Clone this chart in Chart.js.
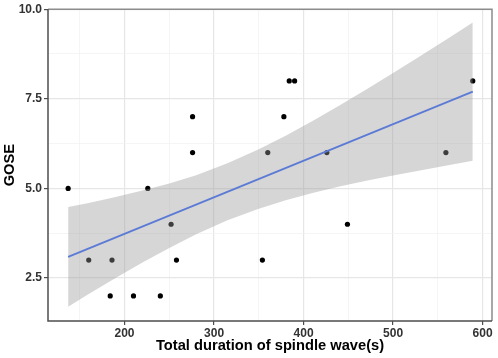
<!DOCTYPE html>
<html>
<head>
<meta charset="utf-8">
<script src="https://cdn.jsdelivr.net/npm/chart.js@4.4.1/dist/chart.umd.min.js"></script>
<style>
  html, body { margin: 0; padding: 0; background: #fff; }
  #wrap { width: 498px; height: 358px; }
</style>
</head>
<body>
<div id="wrap"><canvas id="chart"></canvas></div>
<script>
// observed points
const duration = [137, 160, 184, 186, 210, 226, 240, 252, 258, 276, 276, 354, 360, 378, 384, 390, 426, 449, 559, 589];
const gose = [5, 3, 2, 3, 2, 5, 2, 4, 3, 7, 6, 3, 6, 7, 8, 8, 6, 4, 6, 8];

// fitted line ends
const fitX = [137, 589];
const fitY = [3.09, 7.70];

// confidence band
const bandX = [137, 160, 190, 220, 250, 280, 315, 350, 380, 410, 440, 470, 500, 530, 560, 589];
const bandUpper = [4.48, 4.59, 4.76, 4.94, 5.14, 5.37, 5.70, 6.09, 6.47, 6.88, 7.31, 7.76, 8.22, 8.69, 9.16, 9.63];
const bandLower = [1.70, 2.05, 2.50, 2.93, 3.34, 3.72, 4.11, 4.43, 4.67, 4.87, 5.05, 5.21, 5.36, 5.50, 5.64, 5.77];

const xTicks = [200, 300, 400, 500, 600];
const yTicks = [2.5, 5.0, 7.5, 10.0];

const pts = (xs, ys) => xs.map((x, i) => ({ x: x, y: ys[i] }));
const isMajor = (list, v) => list.some(t => Math.abs(t - v) < 1e-6);

const font = "'Liberation Sans', Arial, sans-serif";

const panelBorder = {
  id: 'panelBorder',
  afterDatasetsDraw(chart) {
    const { ctx, chartArea: a } = chart;
    ctx.save();
    ctx.lineWidth = 1.5;
    ctx.strokeStyle = '#8c8c8c';
    ctx.beginPath();
    ctx.moveTo(a.left, a.top);
    ctx.lineTo(a.right, a.top);
    ctx.lineTo(a.right, a.bottom);
    ctx.stroke();
    ctx.strokeStyle = '#4d4d4d';
    ctx.beginPath();
    ctx.moveTo(a.left, a.top);
    ctx.lineTo(a.left, a.bottom);
    ctx.lineTo(a.right, a.bottom);
    ctx.stroke();
    ctx.restore();
  }
};

new Chart(document.getElementById('chart'), {
  type: 'scatter',
  data: {
    datasets: [
      {
        label: 'upper',
        data: pts(bandX, bandUpper),
        showLine: true,
        borderWidth: 0,
        borderColor: 'rgba(0,0,0,0)',
        pointRadius: 0,
        fill: false
      },
      {
        label: 'lower',
        data: pts(bandX, bandLower),
        showLine: true,
        borderWidth: 0,
        borderColor: 'rgba(0,0,0,0)',
        pointRadius: 0,
        fill: '-1',
        backgroundColor: 'rgba(153,153,153,0.4)'
      },
      {
        label: 'fit',
        data: pts(fitX, fitY),
        showLine: true,
        borderColor: '#3366FF',
        borderWidth: 1.8,
        pointRadius: 0,
        fill: false
      },
      {
        label: 'GOSE',
        data: pts(duration, gose),
        pointRadius: 2.6,
        pointBackgroundColor: '#000',
        pointBorderWidth: 0,
        borderColor: '#000'
      }
    ]
  },
  options: {
    responsive: true,
    maintainAspectRatio: false,
    animation: false,
    layout: { padding: { left: 0, right: 6, top: 7, bottom: 0 } },
    plugins: {
      legend: { display: false },
      tooltip: { enabled: false }
    },
    scales: {
      x: {
        type: 'linear',
        min: 114.5,
        max: 610.5,
        afterFit: (s) => { s.height = 37; },
        border: { display: false },
        grid: {
          color: (c) => isMajor(xTicks, c.tick && c.tick.value) ? '#e6e6e6' : '#f0f0f0',
          lineWidth: (c) => isMajor(xTicks, c.tick && c.tick.value) ? 1.2 : 0.7,
          tickColor: (c) => isMajor(xTicks, c.tick && c.tick.value) ? '#4d4d4d' : 'rgba(0,0,0,0)',
          tickLength: 4,
          drawOnChartArea: true
        },
        ticks: {
          stepSize: 50,
          includeBounds: false,
          maxRotation: 0,
          autoSkip: false,
          padding: 1,
          color: '#333',
          font: { family: font, size: 12, weight: 'bold' },
          callback: (v) => isMajor(xTicks, v) ? String(v) : ''
        },
        title: {
          display: true,
          text: 'Total duration of spindle wave(s)',
          color: '#000',
          font: { family: font, size: 14.7, weight: 'bold' },
          padding: { top: 0, bottom: 3 }
        }
      },
      y: {
        type: 'linear',
        min: 1.3,
        max: 10.0,
        afterFit: (s) => { s.width = 48; },
        border: { display: false },
        grid: {
          color: (c) => isMajor(yTicks, c.tick && c.tick.value) ? '#e6e6e6' : '#f0f0f0',
          lineWidth: (c) => isMajor(yTicks, c.tick && c.tick.value) ? 1.2 : 0.7,
          tickColor: (c) => isMajor(yTicks, c.tick && c.tick.value) ? '#4d4d4d' : 'rgba(0,0,0,0)',
          tickLength: 4
        },
        ticks: {
          stepSize: 1.25,
          includeBounds: false,
          autoSkip: false,
          padding: 2,
          color: '#333',
          font: { family: font, size: 12, weight: 'bold' },
          callback: (v) => isMajor(yTicks, v) ? v.toFixed(1) : ''
        },
        title: {
          display: true,
          text: 'GOSE',
          color: '#000',
          font: { family: font, size: 14.7, weight: 'bold' },
          padding: { top: 1, bottom: 0 }
        }
      }
    }
  },
  plugins: [panelBorder]
});
</script>
</body>
</html>
